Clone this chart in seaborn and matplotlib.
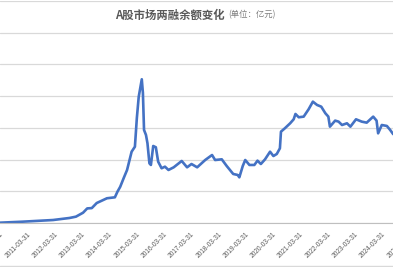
import matplotlib
matplotlib.use("Agg")
import matplotlib.pyplot as plt
from matplotlib.lines import Line2D
import seaborn as sns
import pandas as pd

dates = [
    "2010-03-31", "2011-01-15", "2012-03-10", "2012-10-15", "2013-01-10",
    "2013-04-15", "2013-06-10", "2013-08-10", "2013-10-15", "2014-03-01",
    "2014-06-15", "2014-07-20", "2014-08-25", "2014-10-15", "2014-11-25",
    "2015-01-25", "2015-03-10", "2015-04-05", "2015-04-30", "2015-06-10",
    "2015-06-25", "2015-07-10", "2015-08-05", "2015-08-25", "2015-09-20",
    "2015-10-10", "2015-11-10", "2015-12-15", "2016-01-15", "2016-03-01",
    "2016-04-15", "2016-06-01", "2016-08-10", "2016-11-25", "2017-02-05",
    "2017-04-05", "2017-06-20", "2017-10-05", "2018-01-05", "2018-02-15",
    "2018-05-15", "2018-07-20", "2018-10-15", "2018-12-15", "2019-01-05",
    "2019-02-20", "2019-03-25", "2019-05-20", "2019-07-25", "2019-09-05",
    "2019-10-20", "2019-12-15", "2020-02-20", "2020-04-05", "2020-05-20",
    "2020-07-01", "2020-07-15", "2020-09-05", "2020-11-15", "2021-01-01",
    "2021-01-25", "2021-03-10", "2021-05-15", "2021-07-20", "2021-09-15",
    "2021-11-10", "2022-01-05", "2022-03-01", "2022-04-10", "2022-05-01",
    "2022-07-10", "2022-08-25", "2022-10-10", "2022-12-15", "2023-01-30",
    "2023-04-15", "2023-07-01", "2023-09-05", "2023-12-01", "2024-01-15",
    "2024-02-05", "2024-03-25", "2024-06-01", "2024-07-15", "2024-08-25",
]
balance = [
    50, 200, 470, 790, 1000,
    1620, 2300, 2350, 3150, 3900,
    4050, 4950, 5700, 7200, 8360,
    11240, 12030, 16560, 19900, 22660,
    20500, 14670, 13880, 12570, 9410,
    9150, 12140, 11940, 9670, 8630,
    8880, 8360, 8780, 9780, 8780,
    9300, 8780, 9930, 10720, 9930,
    10040, 8990, 7730, 7570, 7200,
    8990, 9930, 9150, 9150, 9830,
    9300, 10040, 11240, 10560, 10880,
    11780, 14400, 14930, 15720, 16350,
    17190, 16670, 16770, 17930, 19130,
    18610, 18340, 17300, 16770, 15190,
    16140, 15980, 15450, 15720, 15190,
    16350, 15980, 15820, 16770, 16140,
    14140, 15450, 15300, 14670, 14000,
]
tick_years = list(range(2010, 2026))
y_ticks = [0, 5000, 10000, 15000, 20000, 25000, 30000, 35000]
title_main = "A股市场两融余额变化"
title_unit = "(单位：亿元)"

df = pd.DataFrame({"date": pd.to_datetime(dates), "balance": balance})

sns.set_theme(style="white")
plt.rcParams["font.family"] = ["Noto Sans CJK SC", "DejaVu Sans"]

W, H = 393, 267
x0 = pd.Timestamp("2010-03-31")
x1 = pd.Timestamp("2025-04-30")
px_per_day = 27.3 / 365.25
axes_w_px = (x1 - x0).days * px_per_day

fig = plt.figure(figsize=(W / 100, H / 100), dpi=100)
ax = fig.add_axes([0, (H - 223) / H, axes_w_px / W, (223 - 1) / H])

sns.lineplot(data=df, x="date", y="balance", ax=ax, color="#4472C4",
             linewidth=1.9, solid_capstyle="round")

ticks = [pd.Timestamp(f"{y}-03-31") for y in tick_years]
ax.set_xticks(ticks)
ax.set_xticklabels([t.strftime("%Y-%m-%d") for t in ticks], rotation=45,
                   ha="right", va="top", rotation_mode="anchor",
                   fontsize=4.8, color="#595959", family="Liberation Sans")
ax.set_xlim(x0, x1)
ax.set_ylim(0, 35000)
ax.set_yticks(y_ticks)
ax.yaxis.grid(True, color="#D9D9D9", linewidth=0.9)
ax.set_yticklabels([])
ax.tick_params(axis="y", length=0)
ax.tick_params(axis="x", length=3, width=0.6, color="#BFBFBF", pad=2.5)
for s in ["left", "right", "top"]:
    ax.spines[s].set_visible(False)
ax.spines["bottom"].set_color("#BFBFBF")
ax.spines["bottom"].set_linewidth(0.8)
ax.set_xlabel("")
ax.set_ylabel("")
ax.patch.set_alpha(0)

fig.add_artist(Line2D([0, 1], [1.5 / H, 1.5 / H], color="#D9D9D9",
                      linewidth=1.0, transform=fig.transFigure))

fig.text(225 / W, 1 - 15 / H, title_main, ha="right", va="center",
         fontsize=8.2, fontweight="bold", color="#595959")
fig.text(228 / W, 1 - 15 / H, title_unit, ha="left", va="center",
         fontsize=6.0, color="#7F7F7F")

fig.savefig("out.png", dpi=100)
